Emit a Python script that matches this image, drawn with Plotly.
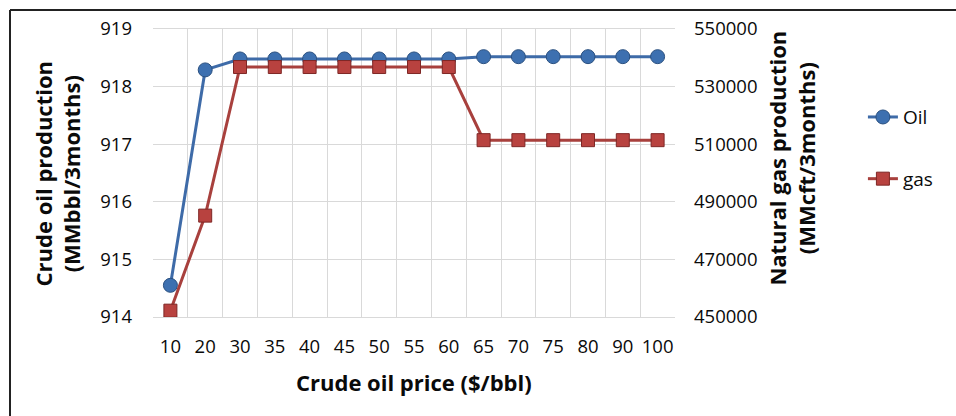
import plotly.graph_objects as go

# Crude oil price scenarios ($/bbl)
prices = ["10", "20", "30", "35", "40", "45", "50", "55", "60", "65", "70", "75", "80", "90", "100"]

# Crude oil production (MMbbl/3months)
oil = [914.55, 918.29, 918.48, 918.48, 918.48, 918.48, 918.48, 918.48, 918.48,
       918.52, 918.52, 918.52, 918.52, 918.52, 918.52]

# Natural gas production (MMcft/3months)
gas = [452200, 485200, 536800, 536800, 536800, 536800, 536800, 536800, 536800,
       511400, 511400, 511400, 511400, 511400, 511400]

left_ticks = [914, 915, 916, 917, 918, 919]
right_ticks = [450000, 470000, 490000, 510000, 530000, 550000]

FONT = "Open Sans"
TXT = "#0A0A0A"
GRID = "#D9D9D9"
TICK_SIZE = 18.5
TITLE_SIZE = 22

fig = go.Figure()
fig.add_trace(go.Scatter(
    x=prices, y=oil, name="Oil", mode="lines+markers",
    line=dict(color="#3E6BA8", width=3),
    marker=dict(symbol="circle", size=14, color="#3D70B0",
                line=dict(color="#2A5080", width=1)),
    legendgroup="oil", yaxis="y",
))
fig.add_trace(go.Scatter(
    x=prices, y=gas, name="gas", mode="lines+markers",
    line=dict(color="#A8403D", width=3),
    marker=dict(symbol="square", size=13, color="#B8423F",
                line=dict(color="#7E2725", width=1)),
    legendgroup="gas", yaxis="y2",
))

fig.update_layout(
    width=956, height=416,
    margin=dict(l=153, r=281, t=29, b=99),
    paper_bgcolor="white", plot_bgcolor="white",
    font=dict(family=FONT, size=TICK_SIZE, color=TXT),
    showlegend=True,
    legend=dict(
        x=1.36, y=0.76, xanchor="left", yanchor="top",
        tracegroupgap=34, traceorder="grouped",
        font=dict(family=FONT, size=19, color=TXT),
        bgcolor="rgba(0,0,0,0)", itemwidth=30,
    ),
    xaxis=dict(
        type="category", tickson="boundaries", range=[-0.5, 14.5],
        showgrid=True, gridcolor=GRID, gridwidth=1,
        showline=True, linecolor=GRID, linewidth=1, mirror=True,
        ticks="", ticklabelstandoff=13, tickangle=0,
        tickfont=dict(family=FONT, size=TICK_SIZE, color=TXT),
        zeroline=False,
    ),
    yaxis=dict(
        range=[914, 919], tickvals=left_ticks,
        showgrid=True, gridcolor=GRID, gridwidth=1,
        showline=False, ticks="", ticklabelstandoff=20,
        tickfont=dict(family=FONT, size=TICK_SIZE, color=TXT),
        zeroline=False,
    ),
    yaxis2=dict(
        range=[450000, 550000], tickvals=right_ticks, tickformat="d",
        overlaying="y", side="right",
        showgrid=False, showline=False, ticks="", ticklabelstandoff=18,
        tickfont=dict(family=FONT, size=TICK_SIZE, color=TXT),
        zeroline=False,
    ),
)

# Axis titles
fig.add_annotation(
    text="<b>Crude oil price ($/bbl)</b>", xref="paper", yref="paper",
    x=0.5, y=-0.226, xanchor="center", yanchor="middle", showarrow=False,
    font=dict(family=FONT, size=TITLE_SIZE, color=TXT),
)
fig.add_annotation(
    text="<b>Crude oil production<br>(MMbbl/3months)</b>", xref="paper", yref="paper",
    x=(57 - 153) / 522, y=0.495, xanchor="center", yanchor="middle", showarrow=False,
    textangle=-90, font=dict(family=FONT, size=TITLE_SIZE, color=TXT),
)
fig.add_annotation(
    text="<b>Natural gas production<br>(MMcft/3months)</b>", xref="paper", yref="paper",
    x=(792 - 153) / 522, y=0.55, xanchor="center", yanchor="middle", showarrow=False,
    textangle=-90, font=dict(family=FONT, size=TITLE_SIZE, color=TXT),
)

# Outer frame (left and top edges)
fig.add_shape(type="line", xref="paper", yref="paper",
              x0=(10 - 153) / 522, x1=(10 - 153) / 522,
              y0=(317 - 10) / 288, y1=(317 - 420) / 288,
              line=dict(color="#222222", width=2))
fig.add_shape(type="line", xref="paper", yref="paper",
              x0=(10 - 153) / 522, x1=(960 - 153) / 522,
              y0=(317 - 10) / 288, y1=(317 - 10) / 288,
              line=dict(color="#222222", width=2))

fig.write_html("out.html")
